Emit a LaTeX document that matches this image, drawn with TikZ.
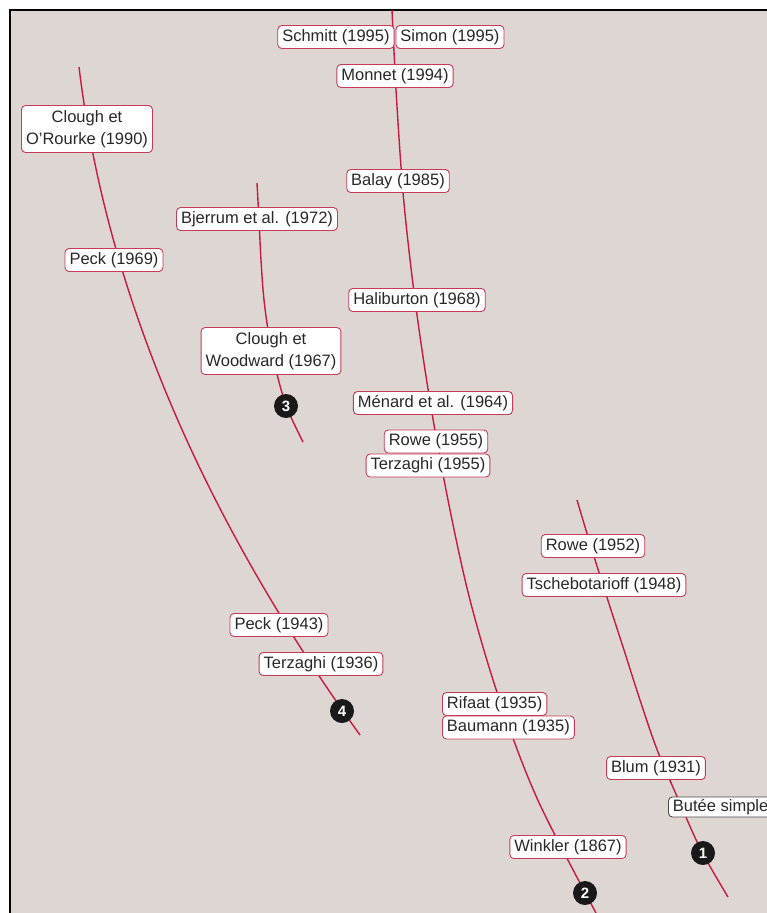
\documentclass[tikz,border=0pt]{standalone}
\usepackage{fontspec}
\setmainfont{Liberation Sans}
\definecolor{bg}{RGB}{221,214,210}
\definecolor{curve}{RGB}{200,25,65}
\definecolor{boxline}{RGB}{196,60,90}
\definecolor{txt}{RGB}{40,40,40}
\tikzset{
  lbox/.style={draw=boxline, line width=0.9pt, fill=white, rounded corners=4pt,
    inner xsep=4.5pt, inner ysep=0pt, minimum height=23pt, text=txt,
    font=\fontsize{16.5}{20}\selectfont},
  lbox2/.style={lbox, minimum height=47pt, align=center,
    font=\fontsize{16.5}{22}\selectfont},
  gbox/.style={lbox, draw=black!70},
  numdot/.style={circle, fill=black!90, text=white, inner sep=0pt,
    minimum size=24pt, font=\fontsize{15}{15}\selectfont\bfseries},
  redcurve/.style={draw=curve, line width=1.4pt}
}
\begin{document}
\begin{tikzpicture}[x=1pt,y=-1pt]
\useasboundingbox (0,0) rectangle (767,913);
\clip (0,0) rectangle (767,913);
\fill[white] (0,0) rectangle (767,913);
\fill[bg] (10,10) rectangle (767,913);
\draw[line width=2pt, black] (10,913) -- (10,10) -- (767,10);
% curves
\coordinate (c4a) at (79,67);
\coordinate (c4b) at (360,735);
\draw[redcurve] (c4a) .. controls (106.1,289.7) and (199.8,512.3) .. (c4b);
\draw[redcurve] plot[smooth, tension=0.55] coordinates {(257,183) (259,220) (261,260) (264,300) (269.7,340) (278.5,380) (287.9,410) (303,442)};
\draw[redcurve] plot[smooth, tension=0.55] coordinates {(392,10) (396.6,100) (403.7,200) (415,300) (429.8,400) (448,500) (470,600) (499.6,700) (537.8,800) (596,913)};
\draw[redcurve] plot[smooth, tension=0.55] coordinates {(577,500) (592,550) (607.8,600) (624,650) (640,700) (657.2,750) (678.6,800) (701,850) (728,897)};
% labels
\node[lbox, anchor=east] (schmitt) at (394.5,37) {Schmitt (1995)};
\node[lbox, anchor=west] (simon) at (395.5,37) {Simon (1995)};
\node[lbox] (monnet) at (395,76) {Monnet (1994)};
\node[lbox2] (clougho) at (87,129) {Clough et\\O'Rourke (1990)};
\node[lbox] (balay) at (398,181) {Balay (1985)};
\node[lbox] (bjerrum) at (257,219) {Bjerrum et al. (1972)};
\node[lbox] (peck69) at (114,260) {Peck (1969)};
\node[lbox] (haliburton) at (417,300) {Haliburton (1968)};
\node[lbox2] (cloughw) at (271,351) {Clough et\\Woodward (1967)};
\node[lbox] (menard) at (433,403) {Ménard et al. (1964)};
\node[lbox] (rowe55) at (436,441.5) {Rowe (1955)};
\node[lbox] (terzaghi55) at (428,465.5) {Terzaghi (1955)};
\node[lbox] (rowe52) at (593,546) {Rowe (1952)};
\node[lbox] (tscheb) at (604,585) {Tschebotarioff (1948)};
\node[lbox] (peck43) at (279,625) {Peck (1943)};
\node[lbox] (terzaghi36) at (321,664) {Terzaghi (1936)};
\node[lbox, anchor=west] (rifaat) at (442,704) {Rifaat (1935)};
\node[lbox, anchor=west] (baumann) at (442,727.5) {Baumann (1935)};
\node[lbox] (blum) at (656,768) {Blum (1931)};
\node[gbox, anchor=west, minimum height=20pt] (butee) at (668,807) {Butée simple};
\node[lbox] (winkler) at (568,847) {Winkler (1867)};
% numbers
\node[numdot] (n1) at (703,853) {1};
\node[numdot] (n2) at (585,893) {2};
\node[numdot] (n3) at (286,406) {3};
\node[numdot] (n4) at (342,711) {4};
\end{tikzpicture}
\end{document}
